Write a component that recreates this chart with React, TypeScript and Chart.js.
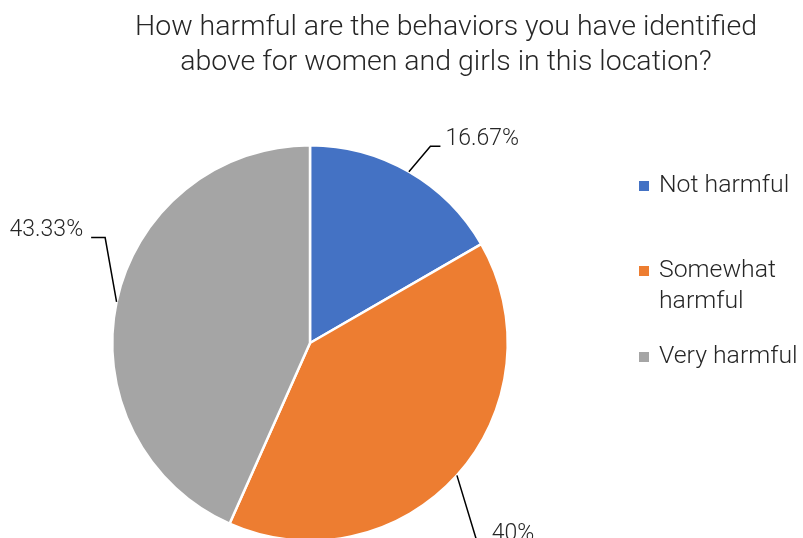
import { useEffect, useRef } from "react";
import { Chart, registerables } from "chart.js";
Chart.register(...registerables);

const titleLines = ["How harmful are the behaviors you have identified", "above for women and girls in this location?"];
const categories = ["Not harmful", "Somewhat harmful", "Very harmful"];
const legendLines = [["Not harmful"], ["Somewhat", "harmful"], ["Very harmful"]];
const values = [16.67, 40, 43.33];
const valueLabels = ["16.67%", "40%", "43.33%"];
const colors = ["#4472C4", "#ED7D31", "#A5A5A5"];

// label placement: elbow position relative to pie centre (in radius units), side of text
const labelElbows = [
  { ex: 0.609, ey: -0.995, side: 1, h: 10, gap: 5 },
  { ex: 0.843, ey: 1.0, side: 1, h: 10, gap: 5 },
  { ex: -1.036, ey: -0.533, side: -1, h: 14, gap: 8 },
];
const legendRows = [186, 271, 357];

const FONT = "Roboto, 'DejaVu Sans', sans-serif";
const TEXT = "#262626";

const overlay = {
  id: "overlay",
  afterDraw(chart: any) {
    const ctx = chart.ctx as CanvasRenderingContext2D;
    ctx.save();
    // title
    ctx.fillStyle = TEXT;
    ctx.font = `300 28.5px ${FONT}`;
    ctx.textAlign = "center";
    ctx.textBaseline = "middle";
    titleLines.forEach((t, i) => ctx.fillText(t, 446, 28 + i * 35));

    // data labels with leader lines
    const meta = chart.getDatasetMeta(0);
    meta.data.forEach((arc: any, i: number) => {
      const cx = arc.x, cy = arc.y, r = arc.outerRadius;
      const mid = (arc.startAngle + arc.endAngle) / 2;
      const ax = cx + Math.cos(mid) * r;
      const ay = cy + Math.sin(mid) * r;
      const L = labelElbows[i];
      const bx = cx + L.ex * r;
      const by = cy + L.ey * r;
      const hx = bx + L.side * L.h;
      ctx.strokeStyle = "#000";
      ctx.lineWidth = 1.5;
      ctx.beginPath();
      ctx.moveTo(ax, ay);
      ctx.lineTo(bx, by);
      ctx.lineTo(hx, by);
      ctx.stroke();
      ctx.font = `300 23px ${FONT}`;
      ctx.textAlign = L.side > 0 ? "left" : "right";
      ctx.textBaseline = "middle";
      ctx.fillStyle = TEXT;
      ctx.fillText(valueLabels[i], hx + L.side * L.gap, by - 7);
    });

    // legend
    ctx.font = `300 24.8px ${FONT}`;
    ctx.textAlign = "left";
    ctx.textBaseline = "middle";
    legendLines.forEach((lines, i) => {
      const y = legendRows[i];
      ctx.fillStyle = colors[i];
      ctx.fillRect(639, y - 5, 10, 10);
      ctx.fillStyle = TEXT;
      lines.forEach((ln, j) => ctx.fillText(ln, 659, y + j * 31));
    });
    ctx.restore();
  },
};

export default function App() {
  const ref = useRef<HTMLCanvasElement | null>(null);
  useEffect(() => {
    if (!ref.current) return;
    const chart = new Chart(ref.current, {
      type: "pie",
      data: {
        labels: categories,
        datasets: [
          {
            data: values,
            backgroundColor: colors,
            borderColor: "#ffffff",
            borderWidth: 2.5,
          },
        ],
      },
      options: {
        responsive: false,
        animation: false,
        layout: { padding: { left: 111, right: 294, top: 144, bottom: 18 } },
        plugins: {
          legend: { display: false },
          title: { display: false },
          tooltip: { enabled: false },
        },
      },
      plugins: [overlay],
    });
    return () => chart.destroy();
  }, []);
  return (
    <div style={{ position: "fixed", left: 0, top: 0, width: 803, height: 538, overflow: "hidden", background: "#fff" }}>
      <canvas ref={ref} width={803} height={560} style={{ display: "block" }} />
    </div>
  );
}
